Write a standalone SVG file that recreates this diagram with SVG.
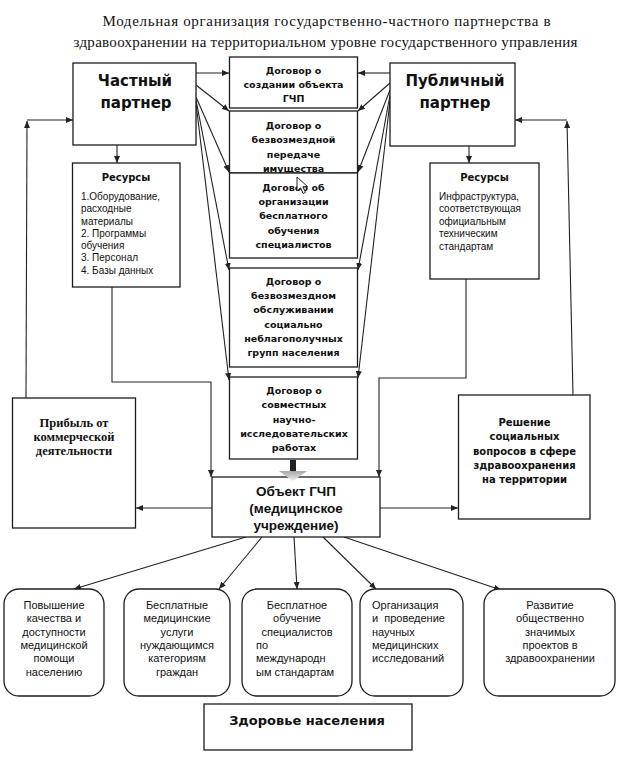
<svg xmlns="http://www.w3.org/2000/svg" width="621" height="768" viewBox="0 0 621 768">
<defs>
<marker id="ah" markerWidth="7" markerHeight="6" refX="7" refY="3" orient="auto" markerUnits="userSpaceOnUse">
<path d="M0,0 L7,3 L0,6 z" fill="#222"/>
</marker>
<linearGradient id="chev" x1="0" y1="0" x2="0" y2="1">
<stop offset="0" stop-color="#a8a8a8"/>
<stop offset="1" stop-color="#ececec"/>
</linearGradient>
</defs>
<style>
.box{fill:#fff;stroke:#1c1c1c;stroke-width:1.3}
.ln{fill:none;stroke:#222;stroke-width:1.1}
.ar{fill:none;stroke:#222;stroke-width:1.1;marker-end:url(#ah)}
text{fill:#111}
.ttl{font-family:"Liberation Serif",serif;font-size:15px}
.big{font-family:"DejaVu Sans",sans-serif;font-weight:bold;font-size:15px;text-anchor:middle}
.dog{font-family:"DejaVu Sans",sans-serif;font-weight:bold;font-size:9.5px;text-anchor:middle}
.resh{font-family:"DejaVu Sans",sans-serif;font-weight:bold;font-size:10px;text-anchor:middle}
.rest{font-family:"DejaVu Sans",sans-serif;font-weight:bold;font-size:10px;text-anchor:middle}
.res{font-family:"Liberation Sans",sans-serif;font-size:10px}
.bot{font-family:"Liberation Sans",sans-serif;font-size:11px}
.mid{text-anchor:middle}
.obj{font-family:"Liberation Sans",sans-serif;font-weight:bold;font-size:13.5px;text-anchor:middle}
.prib{font-family:"Liberation Serif",serif;font-weight:bold;font-size:12.5px;text-anchor:middle}
.zdr{font-family:"DejaVu Sans",sans-serif;font-weight:bold;font-size:13px;text-anchor:middle}
</style>
<rect x="0" y="0" width="621" height="768" fill="#fff"/>

<g id="title">
<text class="ttl" x="102.5" y="26" textLength="448" lengthAdjust="spacing">Модельная организация государственно-частного партнерства в</text>
<text class="ttl" x="73.5" y="47" textLength="504" lengthAdjust="spacing">здравоохранении на территориальном уровне государственного управления</text>
</g>

<g id="connectors">
<line class="ar" x1="196" y1="73" x2="229" y2="73"/>
<line class="ar" x1="196" y1="85" x2="229" y2="111"/>
<line class="ar" x1="196" y1="97" x2="229" y2="172"/>
<line class="ar" x1="196" y1="100" x2="229" y2="270"/>
<line class="ar" x1="196" y1="103" x2="229" y2="380"/>
<line class="ar" x1="390" y1="73" x2="358" y2="73"/>
<line class="ar" x1="390" y1="83" x2="358" y2="111"/>
<line class="ar" x1="390" y1="90" x2="358" y2="172"/>
<line class="ar" x1="390" y1="95" x2="358" y2="270"/>
<line class="ar" x1="390" y1="101" x2="358" y2="378"/>
<line class="ar" x1="117" y1="145" x2="117" y2="163"/>
<line class="ar" x1="469" y1="146" x2="469" y2="163"/>
<path class="ar" d="M112,287 L112,382 L211,382 L211,477"/>
<path class="ar" d="M466,279 L466,378 L379,378 L379,477"/>
<line class="ar" x1="26" y1="398" x2="27" y2="121"/>
<line class="ar" x1="27" y1="120" x2="73" y2="120"/>
<line class="ar" x1="573" y1="395" x2="567" y2="121"/>
<line class="ar" x1="567" y1="120" x2="515" y2="120"/>
<line class="ar" x1="212" y1="508" x2="136" y2="508"/>
<line class="ar" x1="380" y1="508" x2="458" y2="508"/>
<line class="ar" x1="246" y1="537" x2="74" y2="589"/>
<line class="ar" x1="262" y1="537" x2="219" y2="589"/>
<line class="ar" x1="294" y1="537" x2="297" y2="589"/>
<line class="ar" x1="323" y1="537" x2="376" y2="589"/>
<line class="ar" x1="344" y1="537" x2="501" y2="590"/>
</g>

<g id="chastny">
<rect class="box" x="73" y="63" width="123" height="82"/>
<text class="big" x="135" y="85.5">Частный</text>
<text class="big" x="136" y="107.5">партнер</text>
</g>

<g id="publichny">
<rect class="box" x="390" y="63" width="125" height="83"/>
<text class="big" x="455" y="85.5">Публичный</text>
<text class="big" x="455" y="107.5">партнер</text>
</g>

<g id="dog1">
<rect class="box" x="229.5" y="57" width="128" height="51"/>
<text class="dog" x="293.5" y="74">Договор о</text>
<text class="dog" x="293.5" y="88">создании объекта</text>
<text class="dog" x="293.5" y="102">ГЧП</text>
</g>

<g id="dog2">
<rect class="box" x="229.5" y="111" width="128" height="62"/>
<text class="dog" x="293.5" y="128.5">Договор о</text>
<text class="dog" x="293.5" y="143">безвозмездной</text>
<text class="dog" x="293.5" y="157.5">передаче</text>
<text class="dog" x="293.5" y="171.5">имущества</text>
</g>

<g id="dog3">
<rect class="box" x="229.5" y="173" width="128" height="85"/>
<text class="dog" x="293.5" y="190.5">Договор об</text>
<text class="dog" x="293.5" y="205">организации</text>
<text class="dog" x="293.5" y="219">бесплатного</text>
<text class="dog" x="293.5" y="233.5">обучения</text>
<text class="dog" x="293.5" y="247.5">специалистов</text>
</g>

<g id="dog4">
<rect class="box" x="229.5" y="268" width="128" height="99"/>
<text class="dog" x="293.5" y="284.5">Договор о</text>
<text class="dog" x="293.5" y="298.5">безвозмездном</text>
<text class="dog" x="293.5" y="313">обслуживании</text>
<text class="dog" x="293.5" y="327.5">социально</text>
<text class="dog" x="293.5" y="341.5">неблагополучных</text>
<text class="dog" x="293.5" y="355.5">групп населения</text>
</g>

<g id="dog5">
<rect class="box" x="229.5" y="377" width="128" height="82"/>
<text class="dog" x="294" y="393.5">Договор о</text>
<text class="dog" x="294" y="408">совместных</text>
<text class="dog" x="294" y="422.5">научно-</text>
<text class="dog" x="294" y="437">исследовательских</text>
<text class="dog" x="294" y="451">работах</text>
</g>

<g id="res-left">
<rect class="box" x="72.5" y="163" width="107.5" height="124"/>
<text class="rest" x="126" y="181">Ресурсы</text>
<text class="res" x="81" y="200">1.Оборудование,</text>
<text class="res" x="81" y="212">расходные</text>
<text class="res" x="81" y="224.5">материалы</text>
<text class="res" x="81" y="236.5">2. Программы</text>
<text class="res" x="81" y="248.5">обучения</text>
<text class="res" x="81" y="261">3. Персонал</text>
<text class="res" x="81" y="273.5">4. Базы данных</text>
</g>

<g id="res-right">
<rect class="box" x="430" y="163" width="109" height="116"/>
<text class="rest" x="484.5" y="181">Ресурсы</text>
<text class="res" x="439" y="200">Инфраструктура,</text>
<text class="res" x="439" y="212">соответствующая</text>
<text class="res" x="439" y="224.5">официальным</text>
<text class="res" x="439" y="237">техническим</text>
<text class="res" x="439" y="249.5">стандартам</text>
</g>

<g id="pribyl">
<rect class="box" x="12.5" y="398" width="123" height="130"/>
<text class="prib" x="74" y="427">Прибыль от</text>
<text class="prib" x="74" y="441">коммерческой</text>
<text class="prib" x="74" y="455">деятельности</text>
</g>

<g id="reshenie">
<rect class="box" x="458.5" y="395" width="131.5" height="124"/>
<text class="resh" x="524.5" y="425.5">Решение</text>
<text class="resh" x="524.5" y="440">социальных</text>
<text class="resh" x="524.5" y="454.5">вопросов в сфере</text>
<text class="resh" x="524.5" y="469">здравоохранения</text>
<text class="resh" x="524.5" y="483">на территории</text>
</g>

<g id="object">
<rect class="box" x="212" y="477" width="168" height="60"/>
<text class="obj" x="296" y="496">Объект ГЧП</text>
<text class="obj" x="296" y="513">(медицинское</text>
<text class="obj" x="296" y="530">учреждение)</text>
</g>

<g id="block-arrow">
<rect x="290" y="460" width="6" height="12" fill="#222"/>
<path d="M279,471 L307,471 L293,481 Z" fill="url(#chev)"/>
</g>

<g id="r1">
<rect class="box" x="4" y="589" width="100" height="107" rx="15"/>
<text class="bot mid" x="54" y="609">Повышение</text>
<text class="bot mid" x="54" y="622.3">качества и</text>
<text class="bot mid" x="54" y="635.6">доступности</text>
<text class="bot mid" x="54" y="649">медицинской</text>
<text class="bot mid" x="54" y="662.2">помощи</text>
<text class="bot mid" x="54" y="675.5">населению</text>
</g>

<g id="r2">
<rect class="box" x="124" y="589" width="106" height="107" rx="15"/>
<text class="bot mid" x="177" y="609">Бесплатные</text>
<text class="bot mid" x="177" y="622.3">медицинские</text>
<text class="bot mid" x="177" y="635.6">услуги</text>
<text class="bot mid" x="177" y="649">нуждающимся</text>
<text class="bot mid" x="177" y="662.2">категориям</text>
<text class="bot mid" x="177" y="675.5">граждан</text>
</g>

<g id="r3">
<rect class="box" x="242" y="589" width="110" height="107" rx="15"/>
<text class="bot mid" x="297" y="609">Бесплатное</text>
<text class="bot mid" x="297" y="622.3">обучение</text>
<text class="bot mid" x="297" y="635.6">специалистов</text>
<text class="bot" x="256" y="649">по</text>
<text class="bot" x="256" y="662.2">международн</text>
<text class="bot" x="256" y="675.5">ым стандартам</text>
</g>

<g id="r4">
<rect class="box" x="360" y="589" width="103" height="107" rx="15"/>
<text class="bot" x="372" y="609">Организация</text>
<text class="bot" x="372" y="622.3" xml:space="preserve">и  проведение</text>
<text class="bot" x="372" y="635.6">научных</text>
<text class="bot" x="372" y="649">медицинских</text>
<text class="bot" x="372" y="662.2">исследований</text>
</g>

<g id="r5">
<rect class="box" x="484" y="589" width="131" height="107" rx="15"/>
<text class="bot mid" x="550" y="609">Развитие</text>
<text class="bot mid" x="550" y="622.3">общественно</text>
<text class="bot mid" x="550" y="635.6">значимых</text>
<text class="bot mid" x="550" y="649">проектов в</text>
<text class="bot mid" x="550" y="662.2">здравоохранении</text>
</g>

<g id="zdorovie">
<rect class="box" x="204" y="704" width="208" height="46"/>
<text class="zdr" x="307" y="724.5">Здоровье населения</text>
</g>

<g id="cursor">
<path d="M297,177 L297,191 L300.5,187.8 L303.2,193.5 L305.5,192.4 L302.9,186.8 L307.5,186.6 Z" fill="#fff" stroke="#111" stroke-width="0.9" stroke-linejoin="round"/>
</g>
</svg>
